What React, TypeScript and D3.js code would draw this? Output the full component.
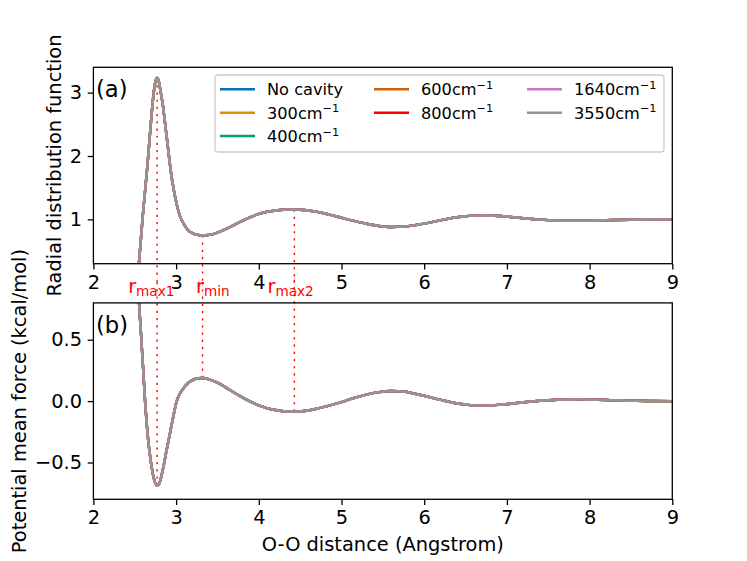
import React, { useEffect, useRef } from "react";
import * as d3 from "d3";

// all cavity frequencies give the same curves within line width
const seriesNames = ["No cavity", "300", "400", "600", "800", "1640", "3550"];
const seriesColors = ["#0173b2", "#de8f05", "#029e73", "#d55e00", "#ff0000", "#cc78bc", "#949494"];
const legendColumns = [[0, 1, 2], [3, 4], [5, 6]];

const rdfR = [
  2.53, 2.55, 2.575, 2.6, 2.625, 2.65, 2.675, 2.7, 2.725, 2.75, 2.77, 2.79, 2.815, 2.84, 2.87,
  2.9, 2.935, 2.97, 3.005, 3.04, 3.07, 3.11, 3.15, 3.2, 3.26, 3.32, 3.4, 3.5, 3.6, 3.7, 3.8,
  3.9, 4.0, 4.1, 4.2, 4.3, 4.43, 4.55, 4.7, 4.85, 5.0, 5.15, 5.3, 5.45, 5.6, 5.75, 5.9, 6.05,
  6.2, 6.35, 6.5, 6.65, 6.8, 6.95, 7.1, 7.3, 7.5, 7.7, 7.9, 8.1, 8.3, 8.5, 8.7, 9.0,
];
const rdfValues = [
  0.03, 0.3, 0.7, 1.1, 1.45, 1.8, 2.2, 2.6, 2.95, 3.17, 3.23, 3.18, 3.0, 2.8, 2.48,
  2.15, 1.77, 1.48, 1.25, 1.08, 0.98, 0.89, 0.82, 0.78, 0.755, 0.747, 0.755, 0.79, 0.845, 0.91, 0.975,
  1.035, 1.085, 1.12, 1.14, 1.152, 1.155, 1.148, 1.12, 1.075, 1.025, 0.975, 0.93, 0.895, 0.878, 0.885, 0.91, 0.945,
  0.985, 1.025, 1.05, 1.063, 1.062, 1.05, 1.03, 1.005, 0.988, 0.978, 0.977, 0.982, 0.99, 0.995, 0.998, 1.0,
];

const pmfR = [
  2.53, 2.55, 2.575, 2.6, 2.625, 2.655, 2.68, 2.705, 2.735, 2.77, 2.8, 2.845, 2.885, 2.925, 2.965,
  3.005, 3.05, 3.105, 3.16, 3.22, 3.27, 3.32, 3.4, 3.5, 3.6, 3.7, 3.8, 3.9, 4.0, 4.1, 4.2, 4.3,
  4.43, 4.55, 4.7, 4.85, 5.0, 5.15, 5.3, 5.45, 5.6, 5.75, 5.9, 6.05, 6.2, 6.35, 6.5, 6.65, 6.8,
  6.95, 7.1, 7.3, 7.5, 7.7, 7.9, 8.1, 8.3, 8.5, 8.7, 9.0,
];
const pmfValues = [
  1.1, 0.82, 0.555, 0.28, 0.0, -0.265, -0.42, -0.54, -0.64, -0.69, -0.665, -0.54, -0.4, -0.265, -0.13,
  -0.005, 0.065, 0.118, 0.155, 0.178, 0.186, 0.188, 0.177, 0.15, 0.112, 0.07, 0.03, -0.005, -0.035, -0.058, -0.073, -0.082,
  -0.085, -0.08, -0.062, -0.037, -0.008, 0.025, 0.053, 0.073, 0.083, 0.078, 0.058, 0.035, 0.01, -0.013, -0.028, -0.036, -0.035,
  -0.028, -0.017, -0.003, 0.007, 0.013, 0.014, 0.011, 0.006, 0.003, 0.001, 0.0,
];

const xTicks = [2, 3, 4, 5, 6, 7, 8, 9];
const rdfTicks = [1, 2, 3];
const pmfTicks = [-0.5, 0, 0.5];

const markerR = [2.77, 3.32, 4.43];
const markerSubs = ["max1", "min", "max2"];
const markerLabelR = [2.42, 3.24, 4.105];

const FONT = "DejaVu Sans, sans-serif";

function valueAt(rs: number[], vs: number[], r: number) {
  const i = d3.bisectLeft(rs, r);
  if (i <= 0) return vs[0];
  if (i >= rs.length) return vs[vs.length - 1];
  const t = (r - rs[i - 1]) / (rs[i] - rs[i - 1]);
  return vs[i - 1] + t * (vs[i] - vs[i - 1]);
}

export default function App() {
  const svgRef = useRef<SVGSVGElement>(null);

  useEffect(() => {
    if (!svgRef.current) return;
    const svg = d3.select(svgRef.current);
    svg.selectAll("*").remove();

    const left = 93.4;
    const right = 672.3;
    const x = d3.scaleLinear().domain([2, 9]).range([left, right]);
    const fmt = d3.format(".1f");

    const panels = [
      {
        id: "a", top: 67.3, bottom: 263.7, domain: [0.3, 3.4], ticks: rdfTicks,
        tickFmt: (d: number) => String(d), rs: rdfR, vs: rdfValues,
        ylabel: "Radial distribution function", ylabelX: 60.5,
      },
      {
        id: "b", top: 302.9, bottom: 499.3, domain: [-0.8, 0.8], ticks: pmfTicks,
        tickFmt: (d: number) => fmt(d).replace("-", "\u2212"), rs: pmfR, vs: pmfValues,
        ylabel: "Potential mean force (kcal/mol)", ylabelX: 26,
      },
    ];

    const defs = svg.append("defs");

    panels.forEach((p, pi) => {
      const y = d3.scaleLinear().domain(p.domain).range([p.bottom, p.top]);
      const clipId = `clip-${p.id}`;
      defs.append("clipPath").attr("id", clipId)
        .append("rect")
        .attr("x", left).attr("y", p.top)
        .attr("width", right - left).attr("height", p.bottom - p.top);

      const g = svg.append("g");

      // red dotted marker lines (drawn unclipped so they run through the gap)
      markerR.forEach((r) => {
        const v = valueAt(p.rs, p.vs, r);
        const y0 = pi === 0 ? y(0) : y(1);
        g.append("line")
          .attr("x1", x(r)).attr("x2", x(r))
          .attr("y1", y(v)).attr("y2", y0)
          .attr("stroke", "#ff0000")
          .attr("stroke-width", 1.4)
          .attr("stroke-dasharray", "2.2 5");
      });

      const line = d3.line<number>()
        .x((_, i) => x(p.rs[i]))
        .y((d) => y(d))
        .curve(d3.curveMonotoneX);

      const lines = g.append("g").attr("clip-path", `url(#${clipId})`);
      seriesColors.forEach((c) => {
        lines.append("path")
          .datum(p.vs)
          .attr("fill", "none")
          .attr("stroke", c)
          .attr("stroke-width", 2.43)
          .attr("stroke-linejoin", "round")
          .attr("d", line);
      });

      const xa = g.append("g")
        .attr("transform", `translate(0,${p.bottom})`)
        .call(d3.axisBottom(x).tickValues(xTicks).tickSize(5.7).tickPadding(5.7).tickFormat((d) => String(d)));
      const ya = g.append("g")
        .attr("transform", `translate(${left},0)`)
        .call(d3.axisLeft(y).tickValues(p.ticks).tickSize(5.7).tickPadding(5.7).tickFormat((d) => p.tickFmt(d as number)));
      [xa, ya].forEach((a) => {
        a.select(".domain").remove();
        a.selectAll("line").attr("stroke", "#000").attr("stroke-width", 1.3);
        a.selectAll("text").attr("font-size", 19.4).attr("font-family", FONT).attr("fill", "#000");
      });

      g.append("rect")
        .attr("x", left).attr("y", p.top)
        .attr("width", right - left).attr("height", p.bottom - p.top)
        .attr("fill", "none").attr("stroke", "#000").attr("stroke-width", 1.3);

      g.append("text")
        .attr("x", 96).attr("y", p.top + 29.8)
        .attr("font-size", 22.7).attr("font-family", FONT)
        .text(`(${p.id})`);

      g.append("text")
        .attr("transform", `translate(${p.ylabelX},${(p.top + p.bottom) / 2}) rotate(-90)`)
        .attr("text-anchor", "middle")
        .attr("font-size", 19.4).attr("font-family", FONT)
        .text(p.ylabel);
    });

    // marker labels in the gap between panels
    markerR.forEach((_, i) => {
      const t = svg.append("text")
        .attr("x", x(markerLabelR[i])).attr("y", 293.3)
        .attr("fill", "#ff0000").attr("font-family", FONT).attr("font-size", 19.4);
      t.append("tspan").text("r");
      t.append("tspan").attr("dy", 2.6).attr("font-size", 13.6).text(markerSubs[i]);
    });

    svg.append("text")
      .attr("x", (left + right) / 2).attr("y", 551)
      .attr("text-anchor", "middle")
      .attr("font-size", 19.4).attr("font-family", FONT)
      .text("O-O distance (Angstrom)");

    // legend
    const lg = svg.append("g");
    lg.append("rect")
      .attr("x", 215).attr("y", 75).attr("width", 449).attr("height", 77).attr("rx", 3.2)
      .attr("fill", "#fff").attr("fill-opacity", 0.8)
      .attr("stroke", "#cccccc").attr("stroke-width", 1.3);
    const colX = [220, 374, 527];
    const rowY = [89.3, 112.7, 136];
    legendColumns.forEach((col, ci) => {
      col.forEach((si, ri) => {
        const cy = rowY[ri];
        lg.append("line")
          .attr("x1", colX[ci]).attr("x2", colX[ci] + 35)
          .attr("y1", cy).attr("y2", cy)
          .attr("stroke", seriesColors[si]).attr("stroke-width", 2.43);
        const t = lg.append("text")
          .attr("x", colX[ci] + 47).attr("y", cy + 5.8)
          .attr("font-size", 16.2).attr("font-family", FONT);
        if (si === 0) {
          t.text(seriesNames[si]);
        } else {
          t.append("tspan").text(`${seriesNames[si]}cm`);
          t.append("tspan").attr("dy", -6.2).attr("font-size", 11.3).text("\u22121");
        }
      });
    });
  }, []);

  return (
    <svg
      ref={svgRef}
      width={747}
      height={561}
      style={{ position: "absolute", left: 0, top: 0, background: "#fff" }}
    />
  );
}
